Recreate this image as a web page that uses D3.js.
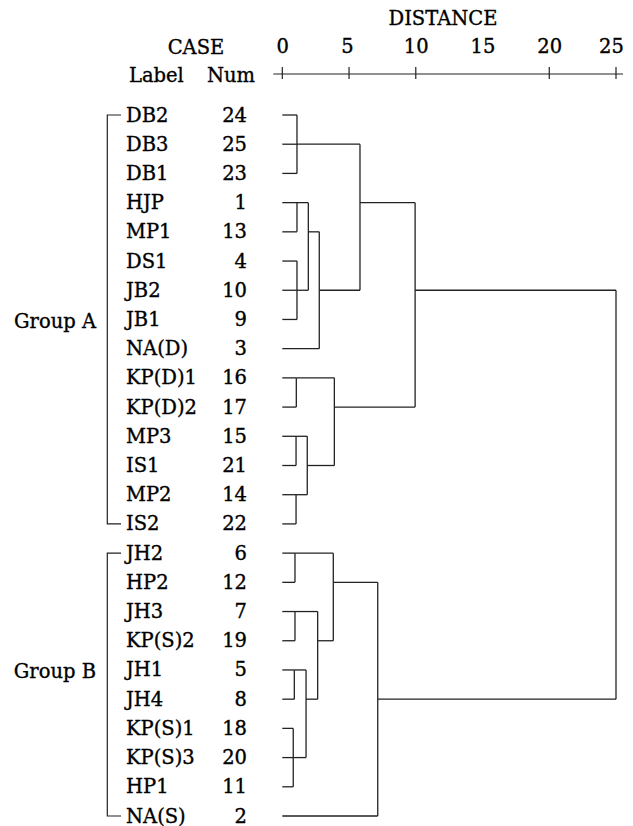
<!DOCTYPE html>
<html>
<head>
<meta charset="utf-8">
<script src="https://cdn.jsdelivr.net/npm/d3@7"></script>
<style>
  body { margin: 0; background: #fff; }
  text { font-family: "DejaVu Serif", "Liberation Serif", serif; fill: #000; stroke: #000; stroke-width: 0.35px; }
</style>
</head>
<body>
<svg id="chart" width="633" height="826"></svg>
<script>
// cases, top to bottom
const labels = ["DB2", "DB3", "DB1", "HJP", "MP1", "DS1", "JB2", "JB1", "NA(D)",
  "KP(D)1", "KP(D)2", "MP3", "IS1", "MP2", "IS2",
  "JH2", "HP2", "JH3", "KP(S)2", "JH1", "JH4", "KP(S)1", "KP(S)3", "HP1", "NA(S)"];
const nums = [24, 25, 23, 1, 13, 4, 10, 9, 3, 16, 17, 15, 21, 14, 22,
  6, 12, 7, 19, 5, 8, 18, 20, 11, 2];

// agglomeration steps: members (case index 0-24, or 25+ for earlier steps) and rescaled distance
const mergeMembers = [
  [0, 1, 2], [3, 4], [5, 6, 7], [26, 27], [28, 8], [25, 29],
  [9, 10], [11, 12], [13, 14], [32, 33], [31, 34], [30, 35],
  [15, 16], [17, 18], [19, 20], [21, 22, 23], [39, 40], [38, 41], [37, 42], [43, 24],
  [36, 44]
];
const mergeDistance = [1.1, 1.1, 1.1, 1.95, 2.77, 5.82,
  1.05, 1.03, 1.03, 1.87, 3.9, 9.95,
  0.95, 0.95, 0.9, 0.82, 1.78, 2.65, 3.82, 7.15,
  25];

const groupNames = ["Group A", "Group B"];
const groupFirst = [0, 15];
const groupLast = [14, 24];
const groupLabelRow = [7, 19];

const distanceTicks = [0, 5, 10, 15, 20, 25];
const markedTicks = [0, 5, 10, 20, 25];

const svg = d3.select("#chart");
const fs = 19.5;

const x = d3.scaleLinear().domain([0, 25]).range([282.3, 616]);
const y = d3.scaleLinear().domain([0, labels.length - 1]).range([115, 816]);

// build the tree
let nodes = labels.map((l, i) => ({ name: l, dist: 0, leafRow: i }));
mergeMembers.forEach((m, k) => {
  nodes.push({ name: "c" + k, dist: mergeDistance[k], children: m.map(id => nodes[id]) });
});
const root = d3.hierarchy(nodes[nodes.length - 1]);
root.eachAfter(d => {
  if (d.children) d.row = Math.floor(d3.mean(d.children, c => c.row));
  else d.row = d.data.leafRow;
});

// headers
svg.append("text").attr("x", 443).attr("y", 18).attr("text-anchor", "middle")
  .attr("dominant-baseline", "central").attr("font-size", fs).text("DISTANCE");
svg.append("text").attr("x", 196).attr("y", 47).attr("text-anchor", "middle")
  .attr("dominant-baseline", "central").attr("font-size", fs).text("CASE");
svg.append("text").attr("x", 129).attr("y", 75)
  .attr("dominant-baseline", "central").attr("font-size", fs).text("Label");
svg.append("text").attr("x", 255).attr("y", 75).attr("text-anchor", "end")
  .attr("dominant-baseline", "central").attr("font-size", fs).text("Num");

// distance axis
let axisY = 74;
let xAxisGenerator = d3.axisTop(x).tickValues(distanceTicks).tickSize(0).tickPadding(27);
let gx = svg.append("g").attr("transform", `translate(0, ${axisY})`).call(xAxisGenerator);
gx.select(".domain").remove();
gx.selectAll("text").attr("font-family", null).attr("font-size", fs)
  .attr("fill", "#000").attr("dy", "0.3em")
  .attr("dx", d => d === 25 ? -5 : d === 5 ? -2 : 0);
gx.append("line").attr("x1", x(0) - 9).attr("x2", x(25) + 7)
  .attr("stroke", "#222").attr("stroke-width", 1.2);
gx.selectAll(".mark").data(markedTicks).join("line").attr("class", "mark")
  .attr("x1", d => x(d)).attr("x2", d => x(d)).attr("y1", -7).attr("y2", 5)
  .attr("stroke", "#222").attr("stroke-width", 1.2);

// case rows
let rows = svg.append("g");
rows.selectAll(".lab").data(labels).join("text").attr("class", "lab")
  .attr("x", 126).attr("y", (d, i) => y(i)).attr("dominant-baseline", "central")
  .attr("font-size", fs).text(d => d);
rows.selectAll(".num").data(nums).join("text").attr("class", "num")
  .attr("x", 247).attr("y", (d, i) => y(i)).attr("text-anchor", "end")
  .attr("dominant-baseline", "central").attr("font-size", fs).text(d => d);

// group brackets
let grp = svg.append("g");
groupNames.forEach((g, i) => {
  const y0 = y(groupFirst[i]), y1 = y(groupLast[i]);
  grp.append("path")
    .attr("d", `M121,${y0}H107.3V${y1}H121`)
    .attr("fill", "none").attr("stroke", "#222").attr("stroke-width", 1.2);
  grp.append("text").attr("x", 96).attr("y", y(groupLabelRow[i]) + 2)
    .attr("text-anchor", "end").attr("dominant-baseline", "central")
    .attr("font-size", fs).text(g);
});

// dendrogram
let tree = svg.append("g").attr("fill", "none").attr("stroke", "#222").attr("stroke-width", 1.3);
tree.selectAll(".h").data(root.descendants().filter(d => d.parent)).join("path").attr("class", "h")
  .attr("d", d => `M${x(d.data.dist)},${y(d.row)}H${x(d.parent.data.dist)}`);
tree.selectAll(".v").data(root.descendants().filter(d => d.children)).join("path").attr("class", "v")
  .attr("d", d => {
    const r = d3.extent(d.children, c => c.row);
    return `M${x(d.data.dist)},${y(r[0])}V${y(r[1])}`;
  });
</script>
</body>
</html>
